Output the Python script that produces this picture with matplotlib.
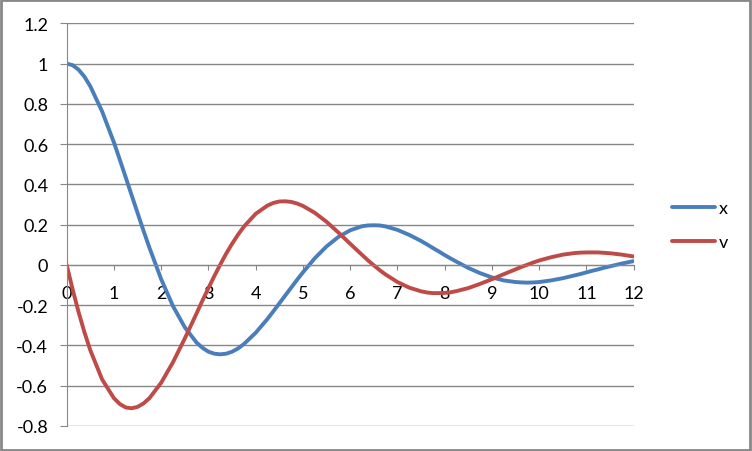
import matplotlib
matplotlib.use("Agg")
import matplotlib.pyplot as plt
from matplotlib.patches import Rectangle

# values (extra points near the turning points)
t = [0, 0.125, 0.25, 0.375, 0.5, 0.75, 1, 1.125, 1.25, 1.375,
     1.5, 1.625, 1.75, 2, 2.25, 2.5, 2.75, 2.875, 3, 3.125,
     3.25, 3.375, 3.5, 3.625, 3.75, 4, 4.25, 4.375, 4.5, 4.625,
     4.75, 4.875, 5, 5.25, 5.5, 5.75, 6, 6.25, 6.375, 6.5,
     6.625, 6.75, 7, 7.25, 7.5, 7.625, 7.75, 7.875, 8, 8.125,
     8.25, 8.5, 8.75, 9, 9.25, 9.5, 9.625, 9.75, 9.875, 10,
     10.25, 10.5, 10.75, 10.875, 11, 11.125, 11.25, 11.375, 11.5, 11.75,
     12]
x_vals = [1.000, 0.992, 0.970, 0.935, 0.887, 0.762, 0.608, 0.522, 0.434, 0.346,
          0.258, 0.170, 0.086, -0.071, -0.205, -0.310, -0.386, -0.412, -0.431, -0.441,
          -0.444, -0.441, -0.431, -0.415, -0.393, -0.337, -0.268, -0.230, -0.191, -0.152,
          -0.113, -0.074, -0.037, 0.033, 0.092, 0.139, 0.172, 0.192, 0.196, 0.197,
          0.196, 0.191, 0.174, 0.149, 0.119, 0.102, 0.084, 0.067, 0.049, 0.032,
          0.016, -0.015, -0.041, -0.062, -0.077, -0.085, -0.087, -0.088, -0.087, -0.085,
          -0.077, -0.066, -0.052, -0.045, -0.037, -0.029, -0.022, -0.014, -0.007, 0.007,
          0.019]
v_vals = [0.000, -0.121, -0.233, -0.334, -0.424, -0.569, -0.662, -0.691, -0.708, -0.712,
          -0.705, -0.688, -0.662, -0.585, -0.483, -0.365, -0.240, -0.176, -0.115, -0.055,
          0.002, 0.056, 0.105, 0.150, 0.190, 0.254, 0.295, 0.308, 0.315, 0.316,
          0.313, 0.305, 0.293, 0.259, 0.214, 0.161, 0.105, 0.050, 0.023, -0.002,
          -0.026, -0.048, -0.085, -0.113, -0.131, -0.137, -0.140, -0.140, -0.139, -0.136,
          -0.130, -0.115, -0.094, -0.071, -0.046, -0.022, -0.010, 0.001, 0.012, 0.022,
          0.038, 0.051, 0.059, 0.061, 0.062, 0.062, 0.062, 0.060, 0.058, 0.051,
          0.042]

y_ticks = [-0.8, -0.6, -0.4, -0.2, 0, 0.2, 0.4, 0.6, 0.8, 1, 1.2]
y_labels = ["-0.8", "-0.6", "-0.4", "-0.2", "0", "0.2", "0.4", "0.6", "0.8", "1", "1.2"]
x_ticks = list(range(0, 13))

grey = "#878787"
plt.rcParams['font.family'] = ['Lato', 'DejaVu Sans']

fig = plt.figure(figsize=(7.52, 4.52), dpi=100)
ax = fig.add_axes([66.7 / 752, 25 / 452, 567 / 752, 402.7 / 452])

ax.plot(t, x_vals, color="#4A7EBB", lw=2.8, label="x",
        solid_capstyle="round", solid_joinstyle="round")
ax.plot(t, v_vals, color="#BE4B48", lw=2.8, label="v",
        solid_capstyle="round", solid_joinstyle="round")

ax.set_xlim(0, 12)
ax.set_ylim(-0.8, 1.2)
ax.set_yticks(y_ticks)
ax.set_yticklabels(y_labels)
ax.set_xticks(x_ticks)

ax.grid(axis="y", color=grey, lw=1)
ax.set_axisbelow(True)

for s in ["top", "right"]:
    ax.spines[s].set_visible(False)
ax.spines["bottom"].set_position(("data", 0))
ax.spines["bottom"].set_color(grey)
ax.spines["left"].set_color(grey)

ax.tick_params(axis="x", direction="out", length=3.8, color=grey, pad=10.5, labelsize=13)
ax.tick_params(axis="y", direction="out", length=4.8, color=grey, pad=8.5, labelsize=13)

fig.legend(loc="center left", bbox_to_anchor=(672 / 752, 0.5), frameon=False,
           fontsize=13, handlelength=2.4, handletextpad=0.2, labelspacing=1.0,
           borderpad=0, borderaxespad=0)

# outer chart border
fig.patches.append(Rectangle((0.001, 0.002), 0.997, 0.995, transform=fig.transFigure,
                             fill=False, edgecolor=grey, lw=2))

fig.savefig("out.png", dpi=100)
